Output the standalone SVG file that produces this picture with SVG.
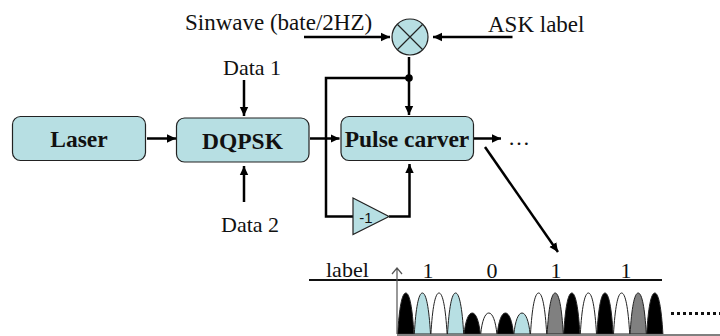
<svg xmlns="http://www.w3.org/2000/svg" width="720" height="336" viewBox="0 0 720 336">
<style>
.box{fill:#b7dfe3;stroke:#222;stroke-width:1.2}
.lbl{font-family:"Liberation Serif",serif;font-size:22px;fill:#111}
.big{font-size:23px}
.mid{text-anchor:middle}
.bold{font-family:"Liberation Serif",serif;font-size:23.500px;font-weight:bold;fill:#111;text-anchor:middle}
.conn{fill:none;stroke:#000;stroke-width:2.500}
.p{stroke:#222;stroke-width:1}
.k{fill:#000}.t{fill:#b7dfe3}.w{fill:#fff}.g{fill:#808080}
</style>
<defs>
<marker id="a" markerUnits="userSpaceOnUse" markerWidth="10" markerHeight="10" refX="9" refY="5" orient="auto"><path d="M0 0.800L9 5L0 9.200Z" fill="#000"/></marker>
<path id="h" d="M0.200 41C1.700 15 4.500 0 8.300 0C12.100 0 14.900 15 16.400 41Z"/>
<path id="s" d="M0.200 21C1.500 8 4.500 0 8.300 0C12.100 0 15.100 8 16.400 21Z"/>
</defs>
<g id="connectors">
<path class="conn" d="M147 138.500H176" marker-end="url(#a)"/>
<path class="conn" d="M244 80V116" marker-end="url(#a)"/>
<path class="conn" d="M244 202V166" marker-end="url(#a)"/>
<path class="conn" d="M310 138.500H339.500" marker-end="url(#a)"/>
<path class="conn" d="M304 37H390" marker-end="url(#a)"/>
<path class="conn" d="M512.500 37H433" marker-end="url(#a)"/>
<path class="conn" d="M409 57V115" marker-end="url(#a)"/>
<path class="conn" d="M409 78H326V216.500H353"/>
<circle cx="409" cy="78" r="3.800" fill="#000"/>
<path class="conn" d="M389 216.500H409.500V164" marker-end="url(#a)"/>
<path class="conn" d="M474 138.500H501" marker-end="url(#a)"/>
<path class="conn" d="M485 147L558 252" marker-end="url(#a)"/>
</g>
<g id="laser"><rect class="box" x="12.500" y="116.500" width="133" height="44" rx="8"/><text class="bold" x="79" y="146.500">Laser</text></g>
<g id="dqpsk"><rect class="box" x="176.500" y="118" width="132.500" height="44" rx="8"/><text class="bold" x="242.500" y="149">DQPSK</text></g>
<g id="pulse-carver"><rect class="box" x="341" y="116.500" width="132.500" height="44" rx="8"/><text class="bold" x="407" y="146.500">Pulse carver</text></g>
<g id="mixer"><circle class="box" cx="410" cy="37" r="18"/><path d="M397.500 24.500L422.500 49.500M422.500 24.500L397.500 49.500" stroke="#222" stroke-width="1.200" fill="none"/></g>
<g id="inverter"><path class="box" d="M353 198L389 216.500L353 234.500Z"/><text x="366" y="222.500" font-family="Liberation Sans,sans-serif" font-size="15" fill="#111" text-anchor="middle">-1</text></g>
<g id="labels">
<text class="lbl big" x="185" y="30">Sinwave (bate/2HZ)</text>
<text class="lbl big" x="488" y="31.500">ASK label</text>
<text class="lbl" x="223" y="75">Data 1</text>
<text class="lbl" x="221" y="232">Data 2</text>
<text class="lbl" x="508" y="144.500" font-size="24">…</text>
</g>
<g id="waveform">
<path d="M309 280H662" stroke="#111" stroke-width="2" fill="none"/>
<text class="lbl" x="326" y="277">label</text><text class="lbl mid" x="428" y="277.500">1</text><text class="lbl mid" x="492" y="277.500">0</text><text class="lbl mid" x="556" y="277.500">1</text><text class="lbl mid" x="626" y="277.500">1</text>
<g class="p">
<use href="#h" x="397.500" y="293" class="k"/>
<use href="#h" x="414.100" y="293" class="t"/>
<use href="#h" x="430.700" y="293" class="w"/>
<use href="#h" x="447.300" y="293" class="t"/>
<use href="#s" x="463.900" y="313" class="k"/>
<use href="#s" x="480.500" y="313" class="w"/>
<use href="#s" x="497.100" y="313" class="k"/>
<use href="#s" x="513.700" y="313" class="t"/>
<use href="#h" x="530.300" y="293" class="w"/>
<use href="#h" x="546.900" y="293" class="g"/>
<use href="#h" x="563.500" y="293" class="k"/>
<use href="#h" x="580.100" y="293" class="w"/>
<use href="#h" x="596.700" y="293" class="k"/>
<use href="#h" x="613.300" y="293" class="w"/>
<use href="#h" x="629.900" y="293" class="g"/>
<use href="#h" x="646.500" y="293" class="k"/>
</g>
<path d="M397 335H720" stroke="#808080" stroke-width="2" fill="none"/>
<path d="M397 334V268M392 274L397 268L402 274" stroke="#555" stroke-width="1.200" fill="none"/>
<path d="M671 313.500H720" stroke="#111" stroke-width="3" stroke-dasharray="3 3" fill="none"/>
</g>
</svg>
